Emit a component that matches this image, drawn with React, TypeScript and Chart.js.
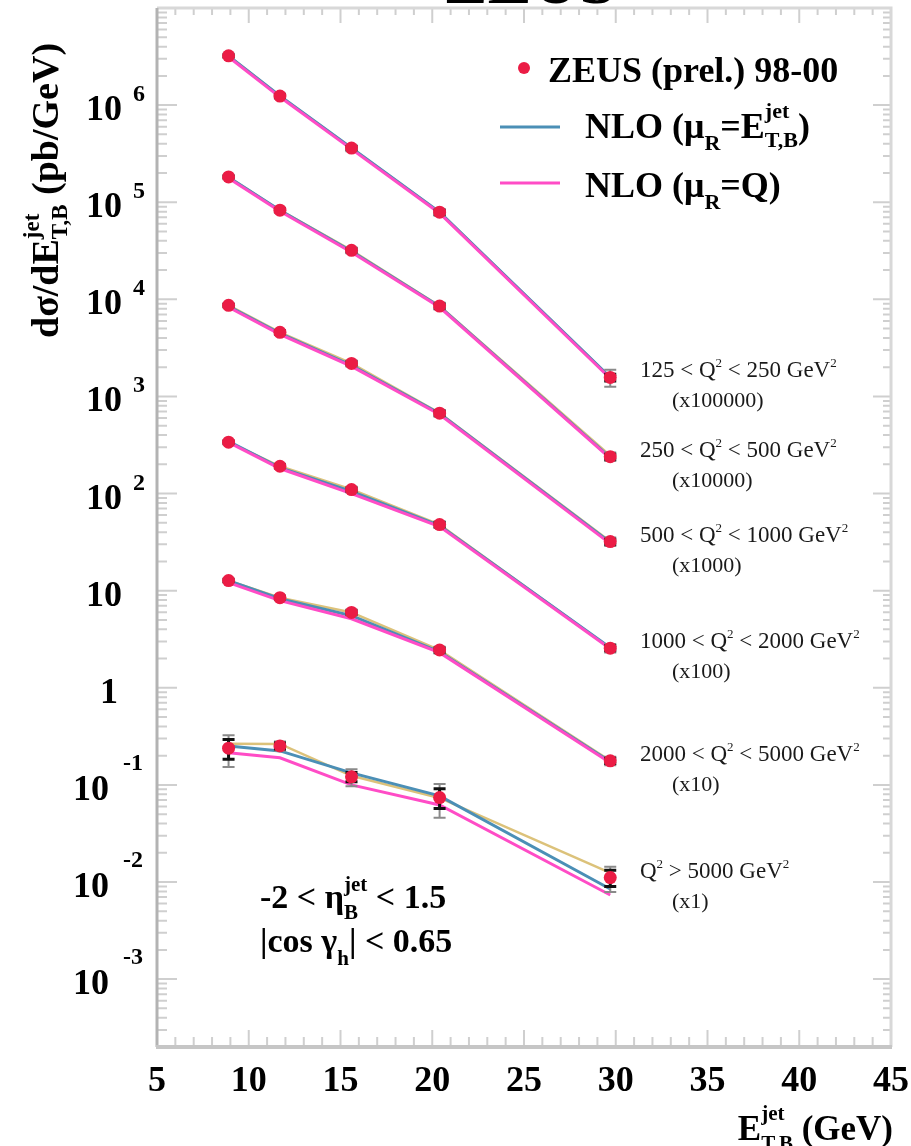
import React, { useEffect, useRef } from "react";
import { Chart, registerables } from "chart.js";

Chart.register(...registerables);

// ---------------- data ----------------
const ET_JET = [8.9, 11.7, 15.6, 20.4, 29.7]; // GeV

const BIN_LOW = ["125", "250", "500", "1000", "2000", "5000"];
const BIN_HIGH = ["250", "500", "1000", "2000", "5000", ""];
const BIN_SCALE = [100000, 10000, 1000, 100, 10, 1];
const BIN_SCALE_LABEL = ["(x100000)", "(x10000)", "(x1000)", "(x100)", "(x10)", "(x1)"];

// ZEUS (prel.) 98-00, dsigma/dE_T (pb/GeV), unscaled
const ZEUS_125 = [32.2, 12.4, 3.61, 0.789, 0.0157];
const ZEUS_250 = [18.2, 8.28, 3.2, 0.853, 0.024];
const ZEUS_500 = [8.67, 4.57, 2.19, 0.673, 0.032];
const ZEUS_1000 = [3.38, 1.91, 1.1, 0.479, 0.0256];
const ZEUS_2000 = [1.27, 0.847, 0.597, 0.245, 0.0177];
const ZEUS_5000 = [0.239, 0.252, 0.121, 0.074, 0.0111];

// relative statistical and total uncertainties
const STAT_REL_125 = [0.02, 0.03, 0.04, 0.05, 0.08];
const TOT_REL_125 = [0.05, 0.06, 0.07, 0.08, 0.2];
const STAT_REL_DEFAULT = [0.02, 0.03, 0.04, 0.05, 0.06];
const TOT_REL_DEFAULT = [0.05, 0.06, 0.07, 0.08, 0.1];
const STAT_REL_5000 = [0.23, 0.07, 0.11, 0.23, 0.19];
const TOT_REL_5000 = [0.36, 0.11, 0.2, 0.38, 0.29];

// NLO (mu_R = E_T,B^jet)
const NLO_ET_125 = [32.0, 12.4, 3.61, 0.789, 0.0157];
const NLO_ET_250 = [18.1, 8.28, 3.13, 0.847, 0.0235];
const NLO_ET_500 = [8.47, 4.46, 2.09, 0.668, 0.0313];
const NLO_ET_1000 = [3.44, 1.85, 1.05, 0.468, 0.0258];
const NLO_ET_2000 = [1.27, 0.828, 0.552, 0.235, 0.0173];
const NLO_ET_5000 = [0.252, 0.224, 0.133, 0.0771, 0.00848];

// NLO (mu_R = Q)
const NLO_Q_125 = [31.3, 12.1, 3.52, 0.771, 0.0153];
const NLO_Q_250 = [17.7, 8.07, 3.05, 0.828, 0.023];
const NLO_Q_500 = [8.28, 4.35, 2.04, 0.652, 0.0305];
const NLO_Q_1000 = [3.36, 1.81, 1.0, 0.457, 0.0252];
const NLO_Q_2000 = [1.21, 0.789, 0.514, 0.23, 0.0169];
const NLO_Q_5000 = [0.214, 0.19, 0.1, 0.0622, 0.00735];

// thin yellow curve (not in legend)
const CURVE_Y_125 = [32.2, 12.4, 3.61, 0.789, 0.0157];
const CURVE_Y_250 = [18.2, 8.28, 3.2, 0.853, 0.0245];
const CURVE_Y_500 = [8.67, 4.57, 2.19, 0.673, 0.032];
const CURVE_Y_1000 = [3.38, 1.91, 1.1, 0.479, 0.0256];
const CURVE_Y_2000 = [1.27, 0.847, 0.597, 0.245, 0.0177];
const CURVE_Y_5000 = [0.265, 0.264, 0.124, 0.0734, 0.0124];

const ZEUS = [ZEUS_125, ZEUS_250, ZEUS_500, ZEUS_1000, ZEUS_2000, ZEUS_5000];
const NLO_ET = [NLO_ET_125, NLO_ET_250, NLO_ET_500, NLO_ET_1000, NLO_ET_2000, NLO_ET_5000];
const NLO_Q = [NLO_Q_125, NLO_Q_250, NLO_Q_500, NLO_Q_1000, NLO_Q_2000, NLO_Q_5000];
const CURVE_Y = [CURVE_Y_125, CURVE_Y_250, CURVE_Y_500, CURVE_Y_1000, CURVE_Y_2000, CURVE_Y_5000];
const STAT_REL = [STAT_REL_125, STAT_REL_DEFAULT, STAT_REL_DEFAULT, STAT_REL_DEFAULT, STAT_REL_DEFAULT, STAT_REL_5000];
const TOT_REL = [TOT_REL_125, TOT_REL_DEFAULT, TOT_REL_DEFAULT, TOT_REL_DEFAULT, TOT_REL_DEFAULT, TOT_REL_5000];

const X_MIN = 5;
const X_MAX = 45;
const Y_MIN = 2e-4;
const Y_MAX = 1e7;
const Y_DECADES = [-3, -2, -1, 0, 1, 2, 3, 4, 5, 6];
const X_MAJOR = [5, 10, 15, 20, 25, 30, 35, 40, 45];

// ---------------- styles ----------------
const FONT = '"Liberation Serif", "Times New Roman", serif';
const RED = "#eb1c45";
const BLUE = "#4b8fb6";
const PINK = "#ff4cc6";
const YELLOW = "#dcc27a";

type Run = { t: string; size: number; dy?: number; bold?: boolean; over?: boolean };

function fontOf(r: Run) {
  return `${r.bold === false ? "" : "bold "}${r.size}px ${FONT}`;
}

function drawRuns(
  ctx: CanvasRenderingContext2D,
  x: number,
  y: number,
  runs: Run[],
  align: "left" | "right" | "center" = "left",
  color = "#000"
) {
  let cx = 0;
  let prevStart = 0;
  let prevEnd = 0;
  const placed: { r: Run; x: number }[] = [];
  for (const r of runs) {
    ctx.font = fontOf(r);
    const w = ctx.measureText(r.t).width;
    const start = r.over ? prevStart : cx;
    const end = start + w;
    placed.push({ r, x: start });
    cx = r.over ? Math.max(prevEnd, end) : end;
    prevStart = start;
    prevEnd = end;
  }
  const x0 = align === "left" ? x : align === "right" ? x - cx : x - cx / 2;
  ctx.fillStyle = color;
  ctx.textAlign = "left";
  ctx.textBaseline = "alphabetic";
  for (const p of placed) {
    ctx.font = fontOf(p.r);
    ctx.fillText(p.r.t, x0 + p.x, y + (p.r.dy || 0));
  }
}

const decorPlugin = {
  id: "zeusDecor",
  beforeDatasetDraw(chart: any, args: any) {
    const ds = chart.data.datasets[args.index];
    if (ds.kind !== "data") return;
    const b = ds.bin as number;
    const ctx: CanvasRenderingContext2D = chart.ctx;
    const xs = chart.scales.x;
    const ys = chart.scales.y;
    ctx.save();
    ET_JET.forEach((e, j) => {
      const v = ZEUS[b][j] * BIN_SCALE[b];
      const px = xs.getPixelForValue(e);
      const tot = TOT_REL[b][j];
      const st = STAT_REL[b][j];
      const yTop = ys.getPixelForValue(v * (1 + tot));
      const yBot = ys.getPixelForValue(v * (1 - tot));
      const sTop = ys.getPixelForValue(v * (1 + st));
      const sBot = ys.getPixelForValue(v * (1 - st));
      ctx.strokeStyle = "#8a8a8a";
      ctx.lineWidth = 2;
      ctx.beginPath();
      ctx.moveTo(px, yTop);
      ctx.lineTo(px, yBot);
      ctx.moveTo(px - 6, yTop);
      ctx.lineTo(px + 6, yTop);
      ctx.moveTo(px - 6, yBot);
      ctx.lineTo(px + 6, yBot);
      ctx.stroke();
      ctx.strokeStyle = "#111";
      ctx.lineWidth = 3;
      ctx.beginPath();
      ctx.moveTo(px, sTop);
      ctx.lineTo(px, sBot);
      ctx.moveTo(px - 6, sTop);
      ctx.lineTo(px + 6, sTop);
      ctx.moveTo(px - 6, sBot);
      ctx.lineTo(px + 6, sBot);
      ctx.stroke();
    });
    ctx.restore();
  },
  afterDraw(chart: any) {
    const ctx: CanvasRenderingContext2D = chart.ctx;
    const xs = chart.scales.x;
    const ys = chart.scales.y;
    const a = chart.chartArea;
    ctx.save();

    // ticks (inward, all four sides)
    ctx.strokeStyle = "#cfcfcf";
    ctx.lineWidth = 2;
    ctx.beginPath();
    for (let v = X_MIN; v <= X_MAX; v++) {
      const px = xs.getPixelForValue(v);
      const major = v % 5 === 0;
      const lb = major ? 17 : 10;
      const lt = major ? 15 : 7;
      ctx.moveTo(px, a.bottom);
      ctx.lineTo(px, a.bottom - lb);
      ctx.moveTo(px, a.top);
      ctx.lineTo(px, a.top + lt);
    }
    for (let e = -4; e <= 7; e++) {
      for (let m = 1; m <= 9; m++) {
        const v = m * Math.pow(10, e);
        if (v < Y_MIN * 0.999 || v > Y_MAX * 1.001) continue;
        const py = ys.getPixelForValue(v);
        const major = m === 1;
        const ll = major ? 20 : 10;
        const lr = major ? 18 : 8;
        ctx.moveTo(a.left, py);
        ctx.lineTo(a.left + ll, py);
        ctx.moveTo(a.right, py);
        ctx.lineTo(a.right - lr, py);
      }
    }
    ctx.stroke();

    // frame
    ctx.lineWidth = 3;
    ctx.strokeStyle = "#d8d8d8";
    ctx.beginPath();
    ctx.moveTo(a.left, a.top);
    ctx.lineTo(a.right, a.top);
    ctx.lineTo(a.right, a.bottom);
    ctx.stroke();
    ctx.strokeStyle = "#b3b3b3";
    ctx.beginPath();
    ctx.moveTo(a.left, a.top);
    ctx.lineTo(a.left, a.bottom);
    ctx.stroke();
    ctx.strokeStyle = "#c6c6c6";
    ctx.lineWidth = 4;
    ctx.beginPath();
    ctx.moveTo(a.left - 1, a.bottom);
    ctx.lineTo(a.right + 1, a.bottom);
    ctx.stroke();

    // x tick labels
    X_MAJOR.forEach((v) => {
      drawRuns(ctx, xs.getPixelForValue(v), a.bottom + 44, [{ t: String(v), size: 36 }], "center");
    });

    // y tick labels
    Y_DECADES.forEach((e) => {
      const py = ys.getPixelForValue(Math.pow(10, e));
      if (e === 0) {
        drawRuns(ctx, 118, py + 15, [{ t: "1", size: 36 }], "right");
      } else if (e === 1) {
        drawRuns(ctx, 122, py + 15, [{ t: "10", size: 36 }], "right");
      } else if (e > 1) {
        drawRuns(ctx, 122, py + 15, [{ t: "10", size: 36 }], "right");
        drawRuns(ctx, 133, py - 4, [{ t: String(e), size: 24 }], "left");
      } else {
        drawRuns(ctx, 109, py + 15, [{ t: "10", size: 36 }], "right");
        drawRuns(ctx, 123, py - 15, [{ t: String(e), size: 24 }], "left");
      }
    });

    // axis titles
    drawRuns(
      ctx,
      893,
      1140,
      [
        { t: "E", size: 35 },
        { t: "jet", size: 21, dy: -20 },
        { t: "T,B", size: 21, dy: 10, over: true },
        { t: " (GeV)", size: 35 },
      ],
      "right"
    );
    ctx.save();
    ctx.translate(58, 338);
    ctx.rotate(-Math.PI / 2);
    drawRuns(ctx, 0, 0, [
      { t: "dσ/dE", size: 38 },
      { t: "jet", size: 23, dy: -19 },
      { t: "T,B", size: 23, dy: 9, over: true },
      { t: " (pb/GeV)", size: 38 },
    ]);
    ctx.restore();

    // title (cut by top edge)
    drawRuns(ctx, 530, 3, [{ t: "ZEUS", size: 66 }], "center");

    // legend
    ctx.fillStyle = RED;
    ctx.beginPath();
    ctx.arc(524, 68, 6, 0, Math.PI * 2);
    ctx.fill();
    drawRuns(ctx, 548, 82, [{ t: "ZEUS (prel.) 98-00", size: 36 }]);
    ctx.lineWidth = 3;
    ctx.strokeStyle = BLUE;
    ctx.beginPath();
    ctx.moveTo(500, 127);
    ctx.lineTo(560, 127);
    ctx.stroke();
    drawRuns(ctx, 585, 138, [
      { t: "NLO (μ", size: 36 },
      { t: "R", size: 22, dy: 12 },
      { t: "=E", size: 36 },
      { t: "jet", size: 22, dy: -20 },
      { t: "T,B", size: 22, dy: 9, over: true },
      { t: ")", size: 36 },
    ]);
    ctx.strokeStyle = PINK;
    ctx.beginPath();
    ctx.moveTo(500, 183);
    ctx.lineTo(560, 183);
    ctx.stroke();
    drawRuns(ctx, 585, 197, [
      { t: "NLO (μ", size: 36 },
      { t: "R", size: 22, dy: 12 },
      { t: "=Q)", size: 36 },
    ]);

    // cuts annotation
    drawRuns(ctx, 260, 908, [
      { t: "-2 < η", size: 34 },
      { t: "jet", size: 21, dy: -17 },
      { t: "B", size: 21, dy: 11, over: true },
      { t: " < 1.5", size: 34 },
    ]);
    drawRuns(ctx, 260, 952, [
      { t: "|cos γ", size: 34 },
      { t: "h", size: 21, dy: 13 },
      { t: "| < 0.65", size: 34 },
    ]);

    // Q2 bin labels next to the last point of each bin
    const last = ET_JET.length - 1;
    BIN_LOW.forEach((lo, b) => {
      const py = ys.getPixelForValue(ZEUS[b][last] * BIN_SCALE[b]);
      const runs: Run[] = BIN_HIGH[b]
        ? [
            { t: `${lo} < Q`, size: 23, bold: false },
            { t: "2", size: 13, dy: -10, bold: false },
            { t: ` < ${BIN_HIGH[b]} GeV`, size: 23, bold: false },
            { t: "2", size: 13, dy: -10, bold: false },
          ]
        : [
            { t: "Q", size: 23, bold: false },
            { t: "2", size: 13, dy: -10, bold: false },
            { t: ` > ${lo} GeV`, size: 23, bold: false },
            { t: "2", size: 13, dy: -10, bold: false },
          ];
      drawRuns(ctx, 640, py, runs, "left", "#1a1a1a");
      drawRuns(ctx, 672, py + 30, [{ t: BIN_SCALE_LABEL[b], size: 22, bold: false }], "left", "#1a1a1a");
    });

    ctx.restore();
  },
};

function pts(vals: number[], scale: number) {
  return ET_JET.map((x, j) => ({ x, y: vals[j] * scale }));
}

export default function App() {
  const ref = useRef<HTMLCanvasElement | null>(null);

  useEffect(() => {
    if (!ref.current) return;
    const datasets: any[] = [];
    BIN_SCALE.forEach((s, b) => {
      datasets.push({
        kind: "curve",
        bin: b,
        data: pts(CURVE_Y[b], s),
        borderColor: YELLOW,
        borderWidth: 2.5,
        pointRadius: 0,
        fill: false,
        order: 3,
      });
      datasets.push({
        kind: "nloEt",
        bin: b,
        data: pts(NLO_ET[b], s),
        borderColor: BLUE,
        borderWidth: 3,
        pointRadius: 0,
        fill: false,
        order: 2,
      });
      datasets.push({
        kind: "nloQ",
        bin: b,
        data: pts(NLO_Q[b], s),
        borderColor: PINK,
        borderWidth: 3,
        pointRadius: 0,
        fill: false,
        order: 1,
      });
      datasets.push({
        kind: "data",
        bin: b,
        data: pts(ZEUS[b], s),
        showLine: false,
        pointRadius: 6.5,
        pointBackgroundColor: RED,
        pointBorderWidth: 0,
        borderColor: RED,
        order: 0,
      });
    });

    const chart = new Chart(ref.current, {
      type: "line",
      data: { datasets },
      options: {
        animation: false,
        responsive: false,
        devicePixelRatio: 1,
        events: [],
        layout: { padding: { left: 157, right: 20, top: 8, bottom: 99 } },
        plugins: {
          legend: { display: false },
          tooltip: { enabled: false },
          title: { display: false },
        },
        scales: {
          x: { type: "linear", min: X_MIN, max: X_MAX, display: false },
          y: { type: "logarithmic", min: Y_MIN, max: Y_MAX, display: false },
        },
      } as any,
      plugins: [decorPlugin as any],
    });
    return () => chart.destroy();
  }, []);

  return (
    <div style={{ position: "fixed", left: 0, top: 0, width: 911, height: 1146, background: "#fff" }}>
      <canvas ref={ref} width={911} height={1146} style={{ display: "block" }} />
    </div>
  );
}
